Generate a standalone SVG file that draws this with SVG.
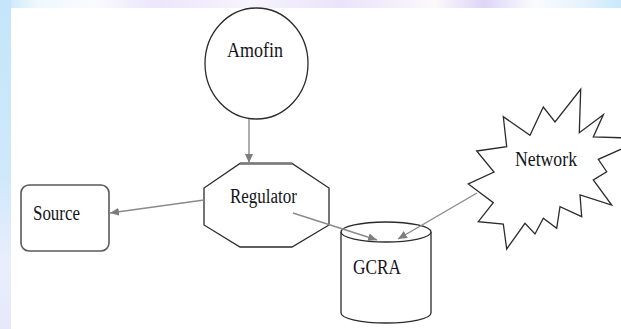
<svg xmlns="http://www.w3.org/2000/svg" width="621" height="329" viewBox="0 0 621 329">
  <style>
    .shape { fill: #ffffff; stroke: #2b2b2b; stroke-width: 1.3; stroke-linejoin: miter; }
    .box { fill: #ffffff; stroke: #5a5a5a; stroke-width: 1.6; }
    .edge { fill: none; stroke: #8a8a8a; stroke-width: 1.4; marker-end: url(#arrow); }
    .label { font-family: "Liberation Serif", "Times New Roman", serif; font-size: 17.5px; fill: #141420; }
  </style>
  <defs>
    <marker id="arrow" viewBox="0 0 10 10" refX="10" refY="5" markerWidth="9" markerHeight="8" markerUnits="userSpaceOnUse" orient="auto" preserveAspectRatio="none">
      <path d="M0,0 L10,5 L0,10 z" fill="#7d7d7d"/>
    </marker>
    <linearGradient id="topBand" x1="0" y1="0" x2="1" y2="0">
      <stop offset="0" stop-color="#c4e5fa"/>
      <stop offset="0.06" stop-color="#eef8fd"/>
      <stop offset="0.15" stop-color="#fbfbfe"/>
      <stop offset="0.25" stop-color="#ebe6fa"/>
      <stop offset="0.4" stop-color="#f6f4fd"/>
      <stop offset="0.55" stop-color="#e9e4f9"/>
      <stop offset="0.7" stop-color="#fcf8fb"/>
      <stop offset="0.78" stop-color="#ddd6f6"/>
      <stop offset="0.86" stop-color="#fbfbfe"/>
      <stop offset="0.93" stop-color="#e8f4fc"/>
      <stop offset="1" stop-color="#c9e8fb"/>
    </linearGradient>
    <linearGradient id="leftBand" x1="0" y1="0" x2="0" y2="1">
      <stop offset="0" stop-color="#c4e5fa"/>
      <stop offset="0.55" stop-color="#cfe9fb"/>
      <stop offset="0.8" stop-color="#eaeefb"/>
      <stop offset="1" stop-color="#e6e8fa"/>
    </linearGradient>
  </defs>

  <!-- page backdrop with tinted margins -->
  <rect x="0" y="0" width="621" height="329" fill="#ffffff"/>
  <rect x="0" y="0" width="621" height="8" fill="url(#topBand)"/>
  <rect x="0" y="0" width="11" height="329" fill="url(#leftBand)"/>

  <g id="amofin">
    <ellipse class="shape" cx="256.5" cy="63.5" rx="51.5" ry="55.5"/>
    <text class="label" transform="translate(227,57) scale(1,1.25)" textLength="56" lengthAdjust="spacingAndGlyphs">Amofin</text>
  </g>

  <g id="regulator">
    <polygon class="shape" points="240,163.5 292,163.5 329,188 329,225 292,247 240,247 204,225 204,188"/>
    <line x1="240" y1="163.5" x2="292" y2="163.5" stroke="#7a7a7a" stroke-width="2.6"/>
    <text class="label" transform="translate(230,203) scale(1,1.25)" textLength="67" lengthAdjust="spacingAndGlyphs">Regulator</text>
  </g>

  <g id="source">
    <rect class="box" x="21" y="185" width="88" height="66" rx="8" ry="8"/>
    <text class="label" transform="translate(33,220) scale(1,1.25)" textLength="47" lengthAdjust="spacingAndGlyphs">Source</text>
  </g>

  <g id="gcra">
    <path class="shape" d="M341,232 L341,313 A45,10 0 0 0 431,313 L431,232"/>
    <ellipse class="shape" cx="386" cy="232" rx="45" ry="10"/>
    <text class="label" transform="translate(353,274) scale(1,1.25)" textLength="48" lengthAdjust="spacingAndGlyphs">GCRA</text>
  </g>

  <g id="network">
    <polygon class="shape" points="476.7,151 506.7,146.7 503.3,116.7 530,135.3 543.3,107 555,122 580.7,89.3 579.3,132.7 603.3,114.7 593.3,137 630,138 630,145.3 598.3,159.3 606.7,171.7 593.3,180 611.7,205 580,195 581.7,216.7 560,206.7 556.7,228.3 543.3,218.3 535,234 525,223.3 506.7,249 503.3,224 478.3,221.7 493.3,202.7 468.3,184 494,172"/>
    <text class="label" transform="translate(515,166) scale(1,1.25)" textLength="62" lengthAdjust="spacingAndGlyphs">Network</text>
  </g>

  <!-- arrows sit above the shapes so heads inside GCRA stay visible -->
  <g id="connectors">
    <line class="edge" x1="249" y1="119" x2="249" y2="163"/>
    <line class="edge" x1="204" y1="200" x2="110" y2="213"/>
    <line class="edge" x1="293" y1="213" x2="377" y2="240"/>
    <line class="edge" x1="477" y1="193" x2="398" y2="239"/>
  </g>
</svg>
